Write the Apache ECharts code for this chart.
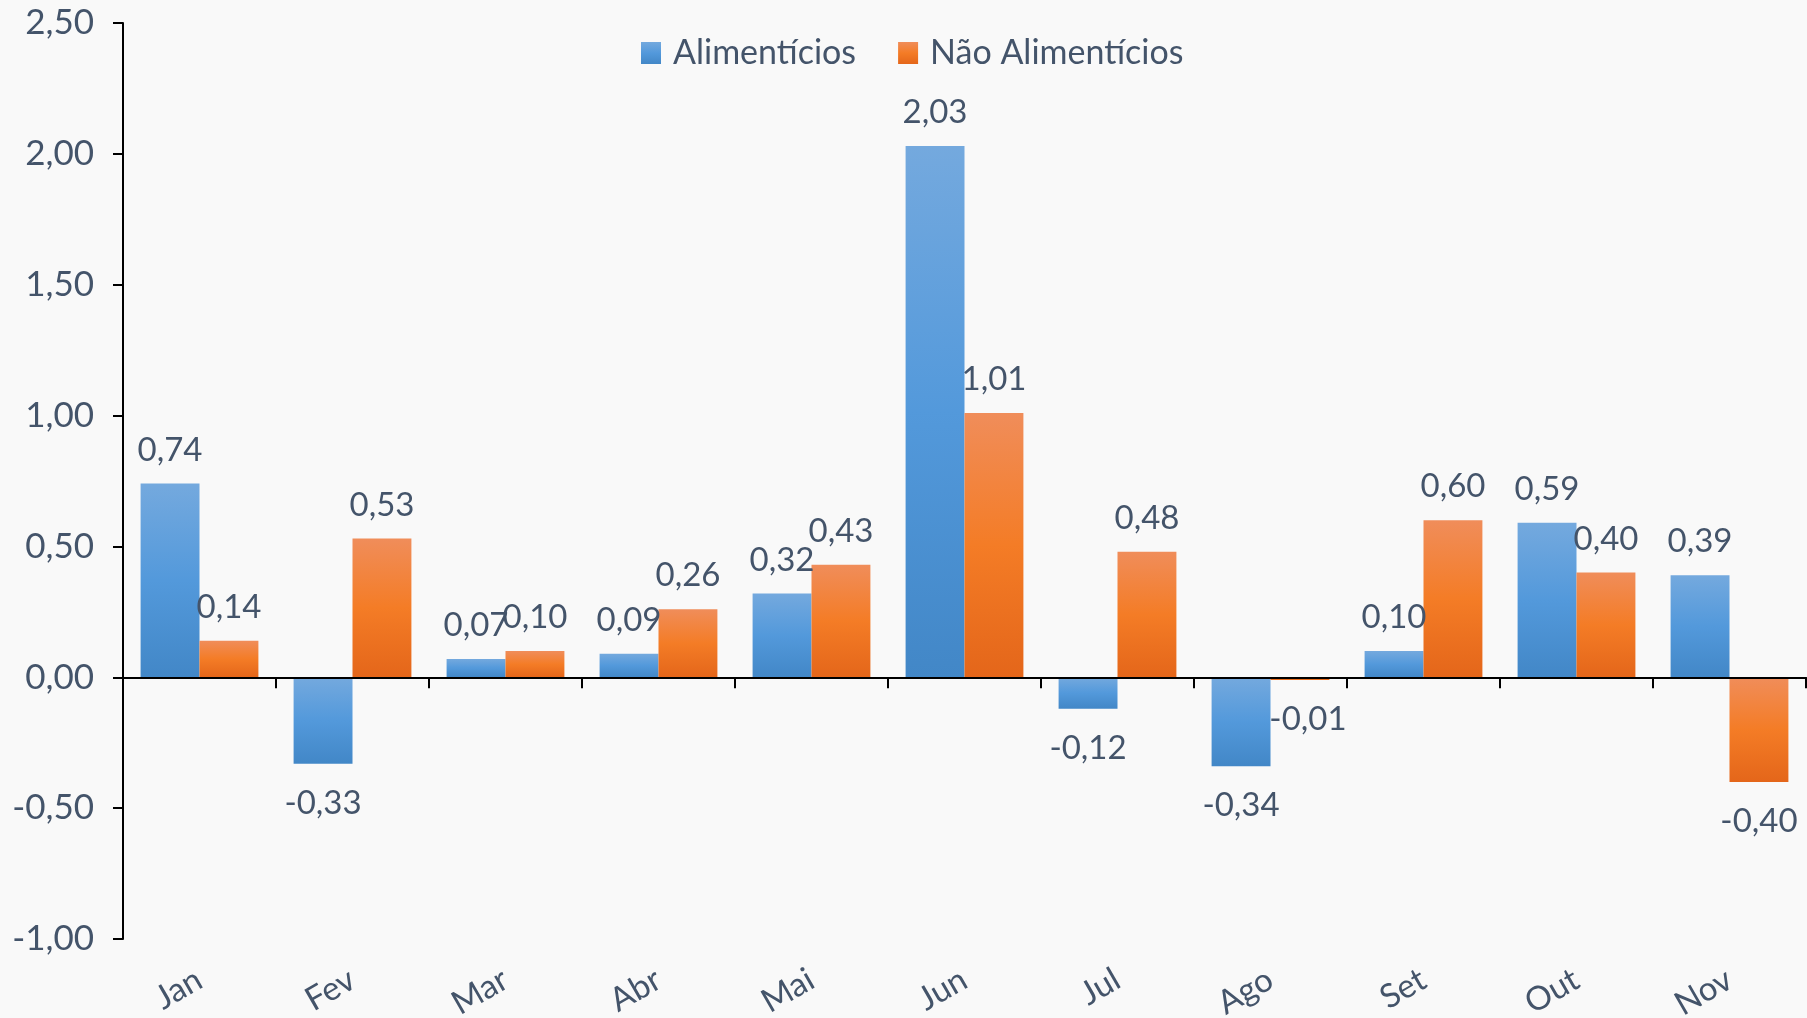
<!DOCTYPE html>
<html>
<head>
<meta charset="utf-8">
<script src="https://cdn.jsdelivr.net/npm/echarts@6/dist/echarts.min.js"></script>
<style>
html,body{margin:0;padding:0;background:#f9f9f9;}
#chart{width:1807px;height:1018px;}
</style>
</head>
<body>
<div id="chart"></div>
<script>
var meses = ['Jan', 'Fev', 'Mar', 'Abr', 'Mai', 'Jun', 'Jul', 'Ago', 'Set', 'Out', 'Nov'];
var alimenticios = [0.74, -0.33, 0.07, 0.09, 0.32, 2.03, -0.12, -0.34, 0.10, 0.59, 0.39];
var naoAlimenticios = [0.14, 0.53, 0.10, 0.26, 0.43, 1.01, 0.48, -0.01, 0.60, 0.40, -0.40];

var corTexto = '#44546a';
var fonte = 'Lato';

function virgula(v) {
	return v.toFixed(2).replace('.', ',');
}

// degradê vertical estilo Excel
function gradiente(c0, c1, c2) {
	return new echarts.graphic.LinearGradient(0, 0, 0, 1, [
		{offset: 0, color: c0},
		{offset: 0.5, color: c1},
		{offset: 1, color: c2}
	]);
}

// rótulo em cima para positivo, embaixo para negativo
function montaDados(arr) {
	return arr.map(function (v) {
		var item = {value: v, label: {position: v < 0 ? 'bottom' : 'top', distance: v < 0 ? 23 : 17}};
		if (Math.abs(v) < 0.05 && v < 0) {
			item.label.offset = [8, 0];
		}
		return item;
	});
}

var rotulo = {
	show: true,
	color: corTexto,
	fontSize: 33,
	fontFamily: fonte,
	formatter: function (p) { return virgula(p.value); }
};

var myChart = echarts.init(document.getElementById('chart'));
var option = {
	backgroundColor: '#f9f9f9',
	animation: false,
	textStyle: {fontFamily: fonte},
	legend: {
		left: 636,
		top: 31,
		itemWidth: 20,
		itemHeight: 22,
		itemGap: 42,
		icon: 'rect',
		textStyle: {color: corTexto, fontSize: 34, fontFamily: fonte, padding: [0, 0, 0, 7]},
		data: ['Alimentícios', 'Não Alimentícios']
	},
	grid: {
		left: 123,
		right: 1,
		top: 23,
		bottom: 79,
		containLabel: false,
		outerBoundsMode: 'none'
	},
	xAxis: [
		{
			// eixo no zero, só linha e marcas
			type: 'category',
			data: meses,
			position: 'bottom',
			z: 5,
			axisLine: {show: true, onZero: true, lineStyle: {color: '#000', width: 2}},
			axisTick: {show: true, length: 11, lineStyle: {color: '#000', width: 2}},
			axisLabel: {show: false},
			splitLine: {show: false}
		},
		{
			// rótulos dos meses na base
			type: 'category',
			data: meses,
			position: 'bottom',
			axisLine: {show: false, onZero: false},
			axisTick: {show: false},
			splitLine: {show: false},
			axisLabel: {
				rotate: 30,
				margin: 38,
				color: corTexto,
				fontSize: 33,
				fontFamily: fonte
			}
		}
	],
	yAxis: {
		type: 'value',
		min: -1,
		max: 2.5,
		interval: 0.5,
		axisLine: {show: true, lineStyle: {color: '#000', width: 2}},
		axisTick: {show: true, length: 10, lineStyle: {color: '#000', width: 2}},
		splitLine: {show: false},
		axisLabel: {
			margin: 29,
			color: corTexto,
			fontSize: 35,
			fontFamily: fonte,
			formatter: function (v) { return virgula(v); }
		}
	},
	series: [
		{
			name: 'Alimentícios',
			type: 'bar',
			xAxisIndex: 0,
			barGap: '0%',
			barCategoryGap: '23%',
			itemStyle: {color: gradiente('#74a9de', '#5399db', '#4287c7')},
			label: rotulo,
			data: montaDados(alimenticios)
		},
		{
			name: 'Não Alimentícios',
			type: 'bar',
			xAxisIndex: 0,
			barGap: '0%',
			barCategoryGap: '23%',
			itemStyle: {color: gradiente('#f08d5a', '#f47c26', '#e4661a')},
			label: rotulo,
			data: montaDados(naoAlimenticios)
		}
	]
};
myChart.setOption(option);
</script>
</body>
</html>
